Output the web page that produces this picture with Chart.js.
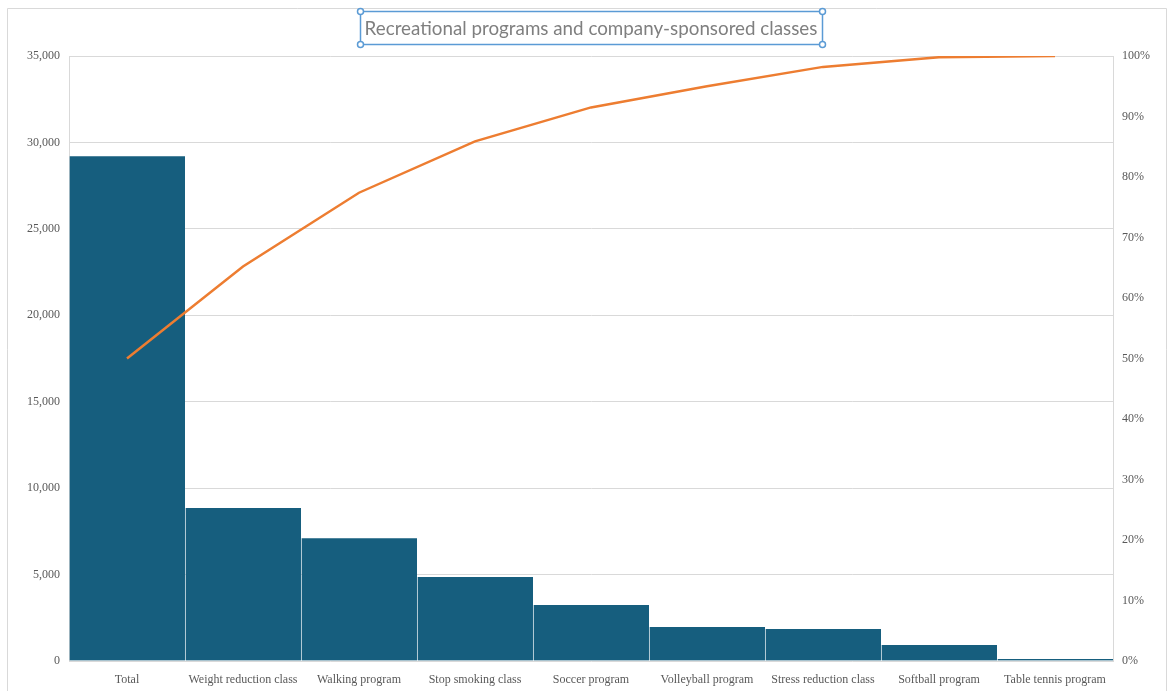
<!DOCTYPE html>
<html>
<head>
<meta charset="utf-8">
<script src="https://cdn.jsdelivr.net/npm/chart.js@4.4.1/dist/chart.umd.min.js"></script>
<style>
  html, body { margin: 0; padding: 0; background: #fff; }
  #wrap { position: relative; width: 1169px; height: 691px; }
</style>
</head>
<body>
<div id="wrap"><canvas id="chart"></canvas></div>
<script>
// Categories and values
const categories = [
    'Total', 'Weight reduction class', 'Walking program', 'Stop smoking class',
    'Soccer program', 'Volleyball program', 'Stress reduction class',
    'Softball program', 'Table tennis program'
];
const participants = [29200, 8850, 7100, 4860, 3240, 1970, 1850, 930, 110];
const cumulativePct = [50.0, 65.2, 77.4, 85.9, 91.5, 95.0, 98.2, 99.8, 100];

const leftTicks = [0, 5000, 10000, 15000, 20000, 25000, 30000, 35000];
const rightTicks = [0, 10, 20, 30, 40, 50, 60, 70, 80, 90, 100];

const titleText = 'Recreational programs and company-sponsored classes';

const textColor = '#595959';
const gridColor = '#d9d9d9';
const serif = '"Liberation Serif", "DejaVu Serif", serif';

// Draws the selected-looking title box and the outer frame
const decorPlugin = {
    id: 'decor',
    beforeDraw(chart) {
        const c = chart.ctx;
        c.save();
        c.fillStyle = '#fff';
        c.fillRect(0, 0, chart.width, chart.height);
        c.strokeStyle = '#d9d9d9';
        c.lineWidth = 1;
        c.beginPath();
        c.moveTo(7.5, chart.height);
        c.lineTo(7.5, 8.5);
        c.lineTo(1166.5, 8.5);
        c.lineTo(1166.5, chart.height);
        c.stroke();
        c.restore();
    },
    afterDraw(chart) {
        const c = chart.ctx;
        const cx = (chart.chartArea.left + chart.chartArea.right) / 2;
        c.save();
        c.font = '18.8px Lato, "Open Sans", sans-serif';
        const w = c.measureText(titleText).width;
        const x0 = Math.round(cx - w / 2 - 5) + 0.5;
        const x1 = Math.round(cx + w / 2 + 5) + 0.5;
        const y0 = 11.5, y1 = 44.5;
        c.fillStyle = '#fff';
        c.fillRect(x0, y0, x1 - x0, y1 - y0);
        c.fillStyle = '#7f7f7f';
        c.textAlign = 'center';
        c.textBaseline = 'middle';
        c.fillText(titleText, cx, 29);
        c.strokeStyle = '#5b9bd5';
        c.lineWidth = 1.5;
        c.strokeRect(x0, y0, x1 - x0, y1 - y0);
        [[x0, y0], [x1, y0], [x0, y1], [x1, y1]].forEach(([hx, hy]) => {
            c.beginPath();
            c.arc(hx, hy, 3, 0, Math.PI * 2);
            c.fillStyle = '#fff';
            c.fill();
            c.stroke();
        });
        c.restore();
    }
};

new Chart(document.getElementById('chart'), {
    data: {
        labels: categories,
        datasets: [
            {
                type: 'line',
                label: 'Cumulative %',
                data: cumulativePct,
                yAxisID: 'y1',
                borderColor: '#ed7d31',
                backgroundColor: '#ed7d31',
                borderWidth: 2.5,
                pointRadius: 0,
                tension: 0,
                order: 0
            },
            {
                type: 'bar',
                label: 'Participants',
                data: participants,
                yAxisID: 'y',
                backgroundColor: '#165e7e',
                borderColor: 'rgba(255,255,255,0.15)',
                borderWidth: { left: 1, right: 0, top: 0, bottom: 0 },
                barPercentage: 1,
                categoryPercentage: 1,
                order: 1
            }
        ]
    },
    options: {
        responsive: true,
        maintainAspectRatio: false,
        animation: false,
        layout: { padding: { top: 56, left: 0, right: 0, bottom: 0 } },
        scales: {
            x: {
                grid: { display: false },
                border: { display: false },
                ticks: {
                    color: textColor,
                    font: { family: serif, size: 12 },
                    maxRotation: 0,
                    autoSkip: false,
                    padding: 4
                },
                afterFit: (s) => { s.height = 30; }
            },
            y: {
                position: 'left',
                min: 0,
                max: 35000,
                afterBuildTicks: (s) => { s.ticks = leftTicks.map(v => ({ value: v })); },
                ticks: {
                    color: textColor,
                    font: { family: serif, size: 12 },
                    padding: 9,
                    callback: (v) => v.toLocaleString('en-US')
                },
                grid: { color: gridColor, drawTicks: false },
                border: { display: true, color: gridColor },
                afterFit: (s) => { s.width = 69; }
            },
            y1: {
                position: 'right',
                min: 0,
                max: 100,
                afterBuildTicks: (s) => { s.ticks = rightTicks.map(v => ({ value: v })); },
                ticks: {
                    color: textColor,
                    font: { family: serif, size: 12 },
                    padding: 9,
                    callback: (v) => v + '%'
                },
                grid: { display: false, drawTicks: false },
                border: { display: true, color: gridColor },
                afterFit: (s) => { s.width = 56; }
            }
        },
        plugins: {
            legend: { display: false },
            title: { display: false },
            tooltip: { enabled: false }
        }
    },
    plugins: [decorPlugin]
});
</script>
</body>
</html>
